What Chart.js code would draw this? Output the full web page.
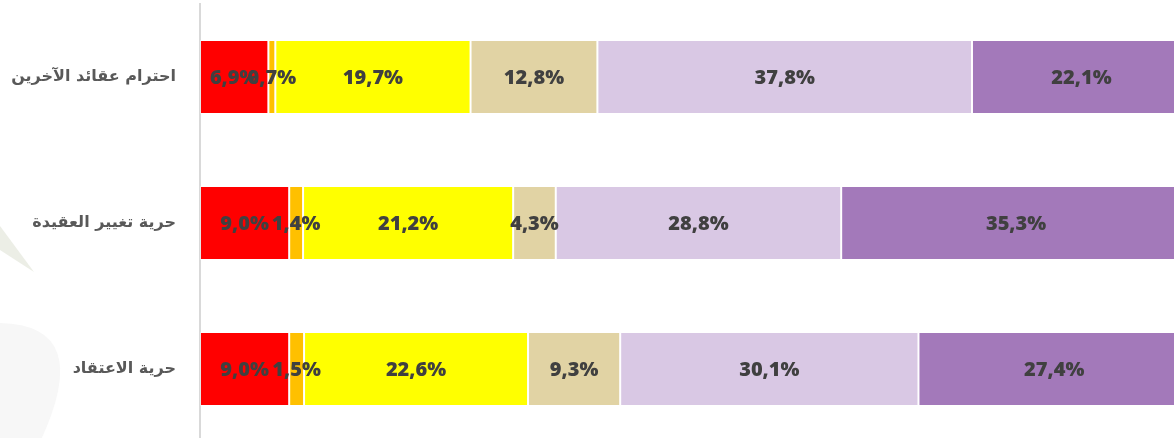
<!DOCTYPE html>
<html>
<head>
<meta charset="utf-8">
<script src="https://cdn.jsdelivr.net/npm/chart.js@4/dist/chart.umd.min.js"></script>
<style>
  html, body { margin: 0; padding: 0; background: #ffffff; overflow: hidden; }
  #wrap { width: 1174px; height: 438px; overflow: hidden; position: relative; }
  canvas { display: block; }
</style>
</head>
<body>
<div id="wrap"><canvas id="c" width="1191" height="442"></canvas></div>
<script>
const categories = ['احترام عقائد الآخرين', 'حرية تغيير العقيدة', 'حرية الاعتقاد'];
const seriesA = [6.9, 9.0, 9.0];
const seriesB = [0.7, 1.4, 1.5];
const seriesC = [19.7, 21.2, 22.6];
const seriesD = [12.8, 4.3, 9.3];
const seriesE = [37.8, 28.8, 30.1];
const seriesF = [22.1, 35.3, 27.4];
const seriesColors = ['#FF0000', '#FFC000', '#FFFF00', '#E1D3A4', '#D9C8E4', '#A379BA'];

const allSeries = [seriesA, seriesB, seriesC, seriesD, seriesE, seriesF];

const bgPlugin = {
  id: 'bgShapes',
  beforeDraw(chart) {
    const ctx = chart.ctx;
    ctx.save();
    ctx.fillStyle = '#ffffff';
    ctx.fillRect(0, 0, chart.width, chart.height);
    ctx.fillStyle = '#eceee6';
    ctx.beginPath();
    ctx.moveTo(0, 226);
    ctx.lineTo(34, 272);
    ctx.lineTo(0, 250);
    ctx.closePath();
    ctx.fill();
    ctx.fillStyle = '#f7f7f7';
    ctx.beginPath();
    ctx.moveTo(0, 323);
    ctx.quadraticCurveTo(95, 325, 40, 442);
    ctx.lineTo(0, 442);
    ctx.closePath();
    ctx.fill();
    ctx.restore();
  }
};

const labelPlugin = {
  id: 'segLabels',
  afterDatasetsDraw(chart) {
    const ctx = chart.ctx;
    ctx.save();
    ctx.font = '800 20px "Open Sans"';
    ctx.fillStyle = '#404040';
    ctx.textAlign = 'center';
    ctx.textBaseline = 'middle';
    chart.data.datasets.forEach((ds, i) => {
      const meta = chart.getDatasetMeta(i);
      meta.data.forEach((el, j) => {
        const v = ds.data[j];
        const cx = (el.x + el.base) / 2;
        const txt = v.toFixed(1).replace('.', ',') + '%';
        ctx.fillText(txt, cx, el.y + 1);
      });
    });
    ctx.restore();
  }
};

new Chart(document.getElementById('c'), {
  type: 'bar',
  data: {
    labels: categories,
    datasets: allSeries.map((s, i) => ({
      data: s,
      backgroundColor: seriesColors[i],
      borderColor: 'rgba(255,255,255,0.35)',
      borderWidth: 1,
      borderSkipped: false,
      categoryPercentage: 1,
      barPercentage: 0.507
    }))
  },
  options: {
    indexAxis: 'y',
    responsive: false,
    animation: false,
    devicePixelRatio: 1,
    layout: { padding: { top: 4, right: 0, bottom: 0, left: 0 } },
    plugins: { legend: { display: false }, tooltip: { enabled: false } },
    scales: {
      x: {
        stacked: true,
        min: 0,
        max: 100,
        display: false
      },
      y: {
        stacked: true,
        afterFit(scale) { scale.width = 200; scale.paddingTop = 0; scale.paddingBottom = 0; },
        grid: { display: true, color: 'rgba(0,0,0,0)', drawTicks: false, drawOnChartArea: false },
        border: { display: true, color: '#d9d9d9', width: 2 },
        ticks: {
          padding: 24,
          color: '#595959',
          font: { family: 'DejaVu Sans', weight: 'bold', size: 16 }
        }
      }
    }
  },
  plugins: [bgPlugin, labelPlugin]
});
</script>
</body>
</html>
